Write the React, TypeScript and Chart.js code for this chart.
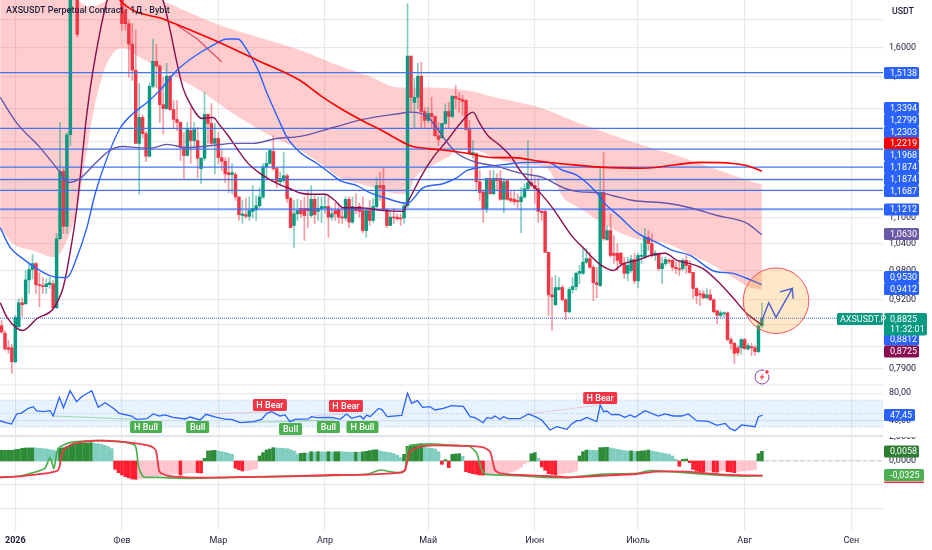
import React, { useEffect, useRef } from "react";
import { Chart, registerables } from "chart.js";

Chart.register(...registerables);

const FIRST_DAY = -4;
const OPEN = [.868,.854,.827,.827,.802,.866,.913,.911,.96,.982,.995,.95,.948,.946,.95,.952,.903,1.051,1.219,1.08,1.321,1.95,2.02,1.84,1.95,1.88,2.02,2.12,1.98,2.06,1.96,1.9,1.98,1.9,1.86,1.92,1.737,1.686,1.612,1.522,1.296,1.372,1.324,1.26,1.469,1.552,1.536,1.411,1.399,1.502,1.396,1.366,1.357,1.284,1.262,1.333,1.304,1.304,1.226,1.254,1.381,1.354,1.296,1.31,1.256,1.246,1.215,1.21,1.21,1.152,1.106,1.108,1.104,1.116,1.12,1.13,1.152,1.231,1.24,1.273,1.226,1.191,1.194,1.207,1.148,1.082,1.11,1.123,1.123,1.123,1.106,1.146,1.116,1.123,1.125,1.128,1.102,1.118,1.12,1.102,1.1,1.146,1.09,1.125,1.128,1.118,1.07,1.118,1.094,1.128,1.181,1.181,1.12,1.082,1.102,1.102,1.1,1.1,1.13,1.57,1.418,1.434,1.502,1.39,1.363,1.384,1.375,1.318,1.312,1.354,1.39,1.375,1.437,1.431,1.427,1.424,1.336,1.265,1.267,1.191,1.165,1.123,1.2,1.16,1.2,1.2,1.146,1.194,1.148,1.146,1.143,1.14,1.152,1.173,1.189,1.181,1.173,1.116,1.116,1.02,.929,.909,.94,.944,.919,.895,.94,.946,.974,.974,.998,1.006,.987,.954,.948,1.163,1.049,1.07,1.018,1.018,1.018,.995,.974,.98,1.004,.958,1.011,1.009,1.054,1.04,1.013,1.016,.984,.995,1.002,1.002,.987,.984,.984,1.002,.991,.976,.942,.931,.931,.923,.929,.919,.897,.888,.891,.893,.842,.835,.827,.827,.842,.825,.829,.827,.82,.868];
const CLOSE = [.856,.825,.824,.802,.884,.913,.909,.96,.982,.995,.95,.948,.946,.952,.954,.903,1.051,1.219,1.08,1.321,1.95,2.05,1.647,1.95,1.88,2.02,2.12,1.98,2.06,1.96,1.9,1.98,1.9,1.86,1.92,1.686,1.686,1.612,1.522,1.296,1.372,1.324,1.26,1.469,1.552,1.536,1.411,1.399,1.502,1.396,1.366,1.357,1.284,1.262,1.336,1.304,1.336,1.254,1.254,1.381,1.354,1.296,1.31,1.256,1.246,1.212,1.21,1.215,1.152,1.108,1.11,1.104,1.118,1.123,1.13,1.152,1.231,1.24,1.276,1.226,1.191,1.2,1.207,1.148,1.077,1.11,1.118,1.11,1.106,1.118,1.146,1.108,1.123,1.128,1.128,1.102,1.11,1.11,1.102,1.1,1.146,1.09,1.128,1.118,1.116,1.07,1.118,1.094,1.128,1.181,1.176,1.118,1.082,1.102,1.1,1.098,1.098,1.13,1.57,1.434,1.434,1.502,1.39,1.363,1.384,1.375,1.318,1.307,1.354,1.39,1.375,1.437,1.431,1.427,1.421,1.336,1.267,1.27,1.191,1.163,1.123,1.2,1.16,1.2,1.194,1.146,1.191,1.146,1.143,1.14,1.14,1.152,1.173,1.189,1.181,1.173,1.116,1.113,1.02,.929,.925,.944,.944,.919,.895,.94,.946,.974,.978,.998,1.006,.987,.954,.95,1.163,1.051,1.07,1.013,1.013,1.002,.995,.974,.991,1.004,.958,1.013,1.013,1.054,1.04,1.013,1.018,.984,.995,1.004,1,.987,.984,.982,1.002,.991,.976,.942,.927,.929,.923,.929,.919,.895,.888,.893,.893,.842,.835,.817,.818,.842,.825,.831,.827,.82,.868,.8825];
const HIGH = [.878,.859,.84,.833,.888,.921,.923,.98,.995,1.015,.997,.975,.965,.962,.965,.958,1.063,1.357,1.227,1.327,2,2.1,2.05,2,2.02,2.08,2.2,2.15,2.1,2.08,2,2.02,2,1.94,1.96,1.96,1.76,1.7,1.686,1.662,1.478,1.38,1.33,1.48,1.63,1.611,1.54,1.498,1.545,1.505,1.424,1.424,1.36,1.327,1.357,1.402,1.357,1.342,1.256,1.449,1.384,1.414,1.354,1.327,1.276,1.256,1.256,1.24,1.216,1.152,1.143,1.148,1.152,1.181,1.155,1.176,1.24,1.27,1.278,1.318,1.229,1.216,1.27,1.212,1.152,1.143,1.146,1.143,1.152,1.168,1.181,1.155,1.152,1.152,1.16,1.152,1.125,1.138,1.136,1.125,1.152,1.152,1.152,1.16,1.136,1.152,1.125,1.143,1.148,1.202,1.216,1.229,1.123,1.118,1.123,1.11,1.11,1.136,1.762,1.57,1.495,1.545,1.549,1.402,1.402,1.434,1.375,1.357,1.354,1.414,1.418,1.44,1.472,1.449,1.44,1.427,1.363,1.304,1.27,1.221,1.168,1.2,1.221,1.221,1.212,1.221,1.2,1.197,1.168,1.168,1.16,1.176,1.186,1.304,1.226,1.202,1.202,1.118,1.118,1.02,.965,.969,.965,.948,.921,.944,.965,.976,.991,1.029,1.029,1.02,.991,.987,1.229,1.27,1.082,1.11,1.058,1.04,1.02,1.009,1.009,1.013,1.018,1.018,1.04,1.075,1.07,1.063,1.024,1.018,1.009,1.009,1.006,1.004,.998,1.002,1.006,1.013,1.002,.976,.944,.938,.938,.942,.94,.921,.897,.897,.895,.895,.846,.837,.831,.844,.844,.835,.835,.831,.872,.913];
const LOW = [.854,.822,.817,.782,.8,.865,.886,.909,.932,.962,.932,.905,.932,.932,.942,.901,.901,1.049,1.063,1.063,1.29,1.9,1.636,1.8,1.84,1.85,1.98,1.92,1.94,1.9,1.85,1.86,1.84,1.82,1.82,1.66,1.662,1.498,1.488,1.296,1.16,1.311,1.245,1.257,1.465,1.465,1.357,1.323,1.396,1.393,1.339,1.333,1.248,1.2,1.26,1.24,1.284,1.202,1.186,1.248,1.296,1.29,1.212,1.24,1.221,1.189,1.163,1.16,1.143,1.094,1.087,1.1,1.094,1.1,1.094,1.125,1.148,1.202,1.238,1.221,1.176,1.186,1.189,1.138,1.077,1.031,1.094,1.102,1.047,1.077,1.102,1.087,1.094,1.089,1.111,1.054,1.094,1.094,1.087,1.087,1.094,1.077,1.087,1.111,1.102,1.065,1.054,1.082,1.089,1.125,1.143,1.118,1.077,1.082,1.087,1.094,1.082,1.087,1.125,1.388,1.339,1.399,1.339,1.342,1.357,1.339,1.315,1.29,1.31,1.351,1.339,1.372,1.399,1.388,1.378,1.333,1.265,1.254,1.168,1.143,1.089,1.113,1.16,1.158,1.168,1.143,1.113,1.143,1.138,1.133,1.123,1.065,1.148,1.168,1.176,1.136,1.089,1.094,1.02,.888,.859,.907,.938,.917,.88,.893,.932,.938,.952,.971,.995,.984,.917,.923,.946,1.047,1.047,1.009,.995,.98,.991,.963,.958,.976,.952,.944,.995,1.006,1.024,1.009,1.002,.98,.952,.991,.995,.98,.974,.969,.98,.974,.974,.921,.911,.907,.921,.921,.917,.893,.872,.884,.884,.84,.825,.799,.813,.815,.825,.822,.813,.813,.818,.864];

const BLUE_DAYS = [-4.4,-1.5,2.2,6.3,11,15,17.9,20.8,23.2,26.7,30.4,34.2,38.3,42,47,51.7,57.5,61.5,64.7,67.4,70.3,73.2,76,79,82.8,87.7,91.5,94.4,99.3,103,108,113.9,118.5,124.3,128.4,131.3,135.9,143,148.8,154.6,159.2,163.3,170,171,175.8,180.7,186.5,191.2,196.1,203.4,208.6,212.7,217];
const BLUE_MA = [1.077,1.031,1.006,.984,.967,.965,1.009,1.077,1.16,1.256,1.339,1.384,1.418,1.456,1.522,1.566,1.608,1.63,1.63,1.59,1.529,1.446,1.378,1.313,1.27,1.24,1.214,1.194,1.181,1.163,1.148,1.136,1.175,1.186,1.202,1.221,1.23,1.238,1.243,1.243,1.221,1.208,1.152,1.139,1.102,1.065,1.042,1.024,1.013,.978,.974,.963,.95];

const MAROON_DAYS = [-4.4,-2.4,.5,2.2,6.3,11,13.9,15.9,17.9,20.8,22.6,26.7,33,42.9,45,47,48.7,50.8,54.3,57.5,59.5,61.5,64.4,67.4,71,76,79.9,82.8,85.7,90,92.9,95.3,100,106.9,112.7,113.9,116.2,118.5,121.4,125.5,129.3,133,135,137.4,140.9,143.8,146.7,149.6,152.5,156.3,159.2,162.1,165,168,170,173.8,176.7,180.7,184.5,188.9,192.3,196.1,199.9,204,208.6,212.7,217];
const MAROON_MA = [.913,.884,.863,.859,.882,.901,.944,1.018,1.125,1.384,1.522,1.776,2,1.776,1.662,1.545,1.465,1.414,1.369,1.372,1.348,1.323,1.282,1.243,1.214,1.187,1.173,1.162,1.159,1.159,1.143,1.125,1.125,1.118,1.116,1.136,1.175,1.214,1.256,1.304,1.354,1.388,1.354,1.318,1.29,1.262,1.221,1.189,1.163,1.123,1.087,1.054,1.031,1.006,.993,.98,.995,1.002,1.013,1.018,1.002,.995,.984,.958,.923,.891,.87];

const PURPLE_DAYS = [-4.4,.5,7.2,13,15.3,18.8,23.2,27.5,31.3,35.4,39.2,44,49.9,57.5,63.3,69,76,82.8,92.4,101,111.8,114.7,119.7,122.6,125.5,128.4,133,140,146.7,153.4,159.2,164.2,170,173.8,179.6,189.5,196.1,204,212.7,217];
const PURPLE_MA = [1.434,1.354,1.284,1.216,1.189,1.2,1.24,1.276,1.287,1.284,1.282,1.293,1.284,1.29,1.296,1.296,1.31,1.316,1.342,1.366,1.384,1.388,1.375,1.339,1.299,1.268,1.246,1.232,1.214,1.202,1.176,1.165,1.163,1.155,1.143,1.136,1.125,1.106,1.087,1.06];

const RED_DAYS = [20,30.4,44,59.5,70.3,82.8,88.6,94.4,100.2,106,113.9,115.6,123.5,131.3,138.9,144.7,152.5,160.4,170,182.5,199,208.6,213.5,217];
const RED_MA = [2.05,1.776,1.699,1.617,1.556,1.488,1.44,1.4,1.366,1.336,1.293,1.287,1.278,1.268,1.256,1.256,1.246,1.238,1.23,1.227,1.243,1.24,1.232,1.219];

const TREND_DAYS = [47,52.9,60];
const TREND_LINE = [1.68,1.63,1.55];

const BAND_UP_DAYS = [-4.4,15,18.5,22,26,33,42,53.7,59.5,82.8,92.4,102.2,111.8,116.8,131.3,140.9,153.4,160.4,170,179.6,189.5,199,208.6,217];
const BAND_UP = [1.82,1.82,1.77,1.75,1.77,1.85,1.78,1.71,1.68,1.59,1.545,1.505,1.465,1.465,1.456,1.43,1.399,1.369,1.333,1.299,1.27,1.24,1.208,1.184];
const BAND_LOW_DAYS = [-4.4,-.7,5.1,11.5,15,17.9,20.8,22.6,25.5,28.4,31.3,36.2,42.9,53.7,63.3,73.2,82.8,88.6,94.4,102.2,111.8,113.9,116.2,121.4,125.5,129.3,134,139.7,144.7,150.4,154.6,159.2,164.2,169.4,175.8,182.5,189.5,196.1,201.9,208.6,213.5,217];
const BAND_LOW = [1.077,1.04,1.024,1.009,1.047,1.118,1.276,1.384,1.511,1.58,1.597,1.566,1.522,1.456,1.384,1.323,1.276,1.24,1.202,1.181,1.16,1.16,1.202,1.235,1.256,1.278,1.276,1.254,1.24,1.235,1.227,1.152,1.123,1.094,1.065,1.047,1.04,1.015,.995,.965,.944,.94];

const LEVELS = [1.5138,1.3394,1.2799,1.2303,1.1968,1.1687];
const THICK_LEVEL = 1.1212;
const LAST_PRICE = 0.8825;

const PLAN_DAYS = [217,219,221.1,225.8,222.3,225.8,226.1];
const PLAN_PRICES = [.878,.913,.884,.942,.935,.942,.921];
const CIRCLE = { day: 221.1, price: .917 };

const RSI_DAYS = [-4.5,-3,-1.1,.4,1.8,3.8,5.2,6.2,8.1,10.1,11,12.8,14,15.9,17.8,19.3,22.2,24.1,26.1,28.5,30.2,33.8,35.3,38.2,40.1,41.9,43.5,45.9,49.3,50.8,53.7,55.4,58.5,61.4,62.9,65.3,69.2,71.6,73.1,74.5,76.9,78.4,79.8,81.3,85.2,86.1,87.6,91,92.4,94.4,96.3,97.8,100.2,101.2,102.1,103.1,105.5,106.5,108.1,112.3,114,115.2,116.9,118.4,120.5,122,124.4,126.8,130.2,132.2,133.6,136,137,138.5,139.4,140.9,141.9,143.3,146.7,149.1,151.1,153,155.4,157.4,160.3,161.7,163.2,164.2,166.1,169,170,171,171.9,173.3,175.3,177.2,178.7,180.1,183,186.9,188.8,191.3,193.7,195.6,198,201.4,203.9,206.3,207.7,209.2,211.1,215,216,217.2];
const RSI = [39.4,36.9,34.4,49.3,50.7,57.7,60.1,53.7,52.7,54.2,46.3,74,58.6,83.8,67.5,74.9,83.8,59.1,66,57.7,50.2,46.3,41.4,42.3,49.3,46.3,47.8,44.3,41.9,44.8,40.4,48.8,44.3,41.4,41.4,36.4,37.9,41.4,50.2,52.7,46.3,47.8,37.9,41.4,41.9,45.3,43.8,44.3,43.8,41.4,49.3,42.8,46.3,41.9,47.8,45.3,57.2,56.2,45.3,47.3,79.9,65.1,69,59.1,60.1,55.2,57.7,61.6,60.6,45.3,43.8,36.4,43.8,42.8,46.3,41.4,45.3,42.3,42.3,49.3,45.3,40.4,25.6,30.5,26.5,34.4,39.4,39.4,44.3,37.9,62.6,52.7,53.7,48.3,48.8,44.3,47.8,44.3,54.2,46.3,49.3,46.3,46.3,49.3,39.4,38.4,32.5,35.4,28,24.6,33,30.5,45.3,47.45];
const RSI_UPPER = 70;
const RSI_MID = 50;
const RSI_LOWER = 30;

const DIV_BULL_DAYS = [11,35.3,null,67,80,null,80,93];
const DIV_BULL = [46.3,41.4,null,37,38,null,38,41];
const DIV_BEAR_DAYS = [55.4,74,null,87,96.3,null,149,170];
const DIV_BEAR = [49,52.7,null,47,49.3,null,49.3,62.6];

const TAGS = [
  { text: "H Bull", kind: "bull", day: 38, rsi: 30 },
  { text: "Bull", kind: "bull", day: 53, rsi: 30 },
  { text: "H Bear", kind: "bear", day: 74, rsi: 62.6 },
  { text: "Bull", kind: "bull", day: 80, rsi: 27 },
  { text: "H Bear", kind: "bear", day: 96.1, rsi: 61 },
  { text: "Bull", kind: "bull", day: 91, rsi: 30 },
  { text: "H Bull", kind: "bull", day: 100.9, rsi: 30 },
  { text: "H Bear", kind: "bear", day: 170, rsi: 73 },
];

const HIST = [.0064,.0064,.0064,.0064,.0068,.007,.0076,.0078,.0078,.0079,.0078,.0076,.0074,.0072,.0068,.0066,.006,.0076,.008,.0088,.0094,.01,.0104,.0106,.0108,.0108,.011,.0106,.0104,.01,.0094,.0086,.0074,-.005,-.007,-.0084,-.0094,-.0102,-.0108,-.011,-.0106,-.0104,-.0103,-.01,-.0094,-.009,-.0086,-.0084,-.0083,-.008,-.0076,-.0075,-.0084,-.0076,-.0072,-.007,-.0069,-.007,-.0072,.0016,.006,.0062,.0064,.006,.0056,.0052,.0046,.004,-.0044,-.0052,-.006,-.0058,-.0056,-.0052,-.0046,.003,.005,.0066,.0072,.008,.0078,.0077,.0076,.0074,.0068,.006,.0042,.0046,.0048,.0047,.0056,.0054,.0056,.0055,.0054,.0056,.0054,.0055,.0056,.0055,.0054,.0053,.0052,.0053,.0052,.0055,.0058,.0062,.0066,.0067,.006,.0056,.0052,.005,.0044,.0034,.002,.004,.0088,.0096,.01,.0102,.0104,.009,.0078,.0076,.0072,.0056,-.002,.0008,-.004,.004,.0042,.0044,.0028,-.0064,-.007,-.0076,-.008,-.0084,-.0085,-.0084,-.008,-.0076,-.0075,-.0072,-.0071,-.007,-.0064,-.006,-.005,-.0036,-.0016,-.0006,.0044,.005,.0016,-.0036,-.0056,-.0076,-.008,-.0084,-.008,-.0076,-.0072,-.007,-.0066,-.006,.003,.0056,.0066,.0065,.0064,.0063,.008,.0081,.0082,.0078,.0074,.007,.0066,.0062,.006,.0061,.0056,.0058,.006,.0062,.0066,.006,.0056,.0052,.0048,.0044,.004,.003,.001,-.0032,.001,.0012,-.001,-.005,-.006,-.0064,-.0066,-.006,-.0059,-.0066,-.0067,-.006,-.0056,-.0064,-.0066,-.007,-.0066,-.006,-.0059,-.0056,-.0054,-.005,.0044,.0058];

const OSC_RED_DAYS = [-4.5,.4,5.2,10.1,12.5,13.5,14.4,17.3,23.6,29.5,36.2,39.6,40.9,41.9,44,49.8,58.5,73.1,82.8,92.4,102.1,111.8,113.3,114.7,117.6,121.5,131.2,132.2,136,138,139.4,140.9,146.7,154.5,161.2,169,180.6,186.4,195.2,204.8,217.2];
const OSC_RED = [-.0361,-.0346,-.0309,-.0258,-.0199,.0133,.028,.0390,.0449,.0435,.0376,.0317,.0228,-.0236,-.0324,-.0361,-.0368,-.0346,-.0332,-.0309,-.0302,-.0258,-.0199,.0206,.0317,.0346,.0332,.0332,.0302,.0206,-.0199,-.0273,-.0309,-.0332,-.0361,-.0332,-.0287,-.0236,-.0236,-.0295,-.0325];
const OSC_GREEN_DAYS = [-4.5,1.4,5.2,8.6,10.1,11.2,12.5,15.9,23.6,29.5,34.8,35.8,37.2,41.1,49.8,58.5,102.1,106,108.9,112.3,113.3,114.2,117.6,121.5,131.2,132.2,134.1,135.6,137,146.7,154.5,161.2,169.9,180.6,184.5,190.3,197.1,209.7,217.2];
const OSC_GREEN = [-.0361,-.0332,-.0258,-.0162,.0081,-.0162,.028,.0405,.0449,.0435,.0346,-.0125,-.0346,-.0361,-.0383,-.0368,-.0295,-.0199,-.0236,-.0258,-.0199,.0317,.036,.0376,.0332,.0317,.017,-.0199,-.0295,-.0324,-.0361,-.0361,-.0295,-.0273,-.0214,-.0236,-.0273,-.0332,-.0325];

const MONTH_DAYS = [0,31,59,90,120,151,181,212,243];
const MONTH_LABELS = ["2026","Фев","Мар","Апр","Май","Июн","Июль","Авг","Сен"];
const PRICE_TICKS = [1.7,1.6,1.5,1.4,1.3,1.2,1.1,1.04,.98,.92,.87,.83,.79];
const RSI_TICKS = [80,40];
const MACD_TICKS = [2,0,-2,-4];

const AXIS_TAGS = [
  { text: "1,5138", y: 73, bg: "#2962FF" },
  { text: "1,3394", y: 108, bg: "#2962FF" },
  { text: "1,2799", y: 120, bg: "#2962FF" },
  { text: "1,2303", y: 132, bg: "#2962FF" },
  { text: "1,2219", y: 143.5, bg: "#FF0000" },
  { text: "1,1968", y: 155, bg: "#2962FF" },
  { text: "1,1874", y: 167, bg: "#2962FF" },
  { text: "1,1874", y: 179, bg: "#2962FF" },
  { text: "1,1687", y: 191, bg: "#2962FF" },
  { text: "1,1212", y: 209.5, bg: "#2962FF" },
  { text: "1,0630", y: 234, bg: "#6A5AA6" },
  { text: "0,9530", y: 277, bg: "#2962FF" },
  { text: "0,9412", y: 289, bg: "#2962FF" },
  { text: "0,8812", y: 339.5, bg: "#2962FF" },
  { text: "0,8725", y: 351.5, bg: "#880E4F" },
  { text: "47,45", y: 415, bg: "#2962FF", w: 31 },
  { text: "0,0058", y: 451.5, bg: "#2E7D32" },
  { text: "-0,0325", y: 475, bg: "#4CAF50", w: 40 },
];

const FONT = "Roboto, 'Noto Sans', sans-serif";
const INK = "#1E1E3C";
const GRID = "#E9E9EC";
const XMIN = -4.45;
const XMAX = 252.2;
const UP = "#089981";
const DOWN = "#F23645";

const pts = (xs: (number | null)[], ys: (number | null)[]) =>
  xs.map((x, i) => ({ x: x === null ? NaN : x, y: ys[i] === null ? NaN : ys[i] }));

const line = (data: any[], color: string, width: number, yAxisID: string, order: number, extra: any = {}) => ({
  type: "line",
  data,
  borderColor: color,
  borderWidth: width,
  pointRadius: 0,
  fill: false,
  tension: 0,
  yAxisID,
  order,
  ...extra,
});

const smooth = { cubicInterpolationMode: "monotone" };

const overlay = {
  id: "overlay",
  afterDraw(chart: any) {
    const { ctx, scales, chartArea } = chart;
    ctx.save();

    // pane separators
    ctx.fillStyle = "#E4E5EA";
    ctx.fillRect(0, scales.rsi.top - 0.5, chart.width - 49, 1);
    ctx.fillStyle = "#FFFFFF";
    ctx.fillRect(chartArea.right, scales.macd.top - 8, chart.width - chartArea.right, 8);
    ctx.fillStyle = "#E4E5EA";
    ctx.fillRect(0, scales.macd.top - 2, chart.width - 49, 2);

    // title
    ctx.fillStyle = INK;
    ctx.font = `500 9px ${FONT}`;
    ctx.textAlign = "left";
    ctx.textBaseline = "middle";
    ctx.fillText("AXSUSDT Perpetual Contract · 1Д · Bybit", 6, 11);
    ctx.font = `500 8.8px ${FONT}`;
    ctx.fillText("USDT", 892, 12);

    // signal tags in the RSI pane
    ctx.font = `500 9px ${FONT}`;
    ctx.textAlign = "center";
    for (const t of TAGS) {
      const cx = scales.x.getPixelForValue(t.day);
      const cy = scales.rsi.getPixelForValue(t.rsi);
      const w = t.text.length > 4 ? (t.kind === "bear" ? 34 : 32) : 23;
      ctx.fillStyle = t.kind === "bear" ? DOWN : "#4CAF50";
      ctx.beginPath();
      ctx.roundRect(cx - w / 2, cy - 6, w, 12, 1.5);
      ctx.fill();
      ctx.fillStyle = "#FFFFFF";
      ctx.fillText(t.text, cx, cy + 0.5);
    }

    // price tags on the axis
    ctx.textAlign = "left";
    ctx.font = `400 9px ${FONT}`;
    for (const t of AXIS_TAGS as any[]) {
      ctx.fillStyle = t.bg;
      ctx.beginPath();
      ctx.roundRect(884, t.y - 6, t.w || 35, 12, 1.5);
      ctx.fill();
      ctx.fillStyle = "#FFFFFF";
      ctx.fillText(t.text, 890, t.y + 0.5);
    }
    ctx.fillStyle = "#FF2D45";
    ctx.fillRect(884, 481.5, 40, 1.5);

    // last price block
    ctx.fillStyle = UP;
    ctx.beginPath();
    ctx.roundRect(884, 313, 43, 22.5, 2);
    ctx.fill();
    ctx.beginPath();
    ctx.roundRect(837, 313, 46, 12, 1.5);
    ctx.fill();
    ctx.fillStyle = "#FFFFFF";
    ctx.fillText("AXSUSDT.P", 840, 319.5);
    ctx.fillText("0,8825", 890, 319.5);
    ctx.fillText("11:32:01", 890, 330);

    // flash icon
    const ix = 762, iy = 377;
    ctx.strokeStyle = "#8E3FA8";
    ctx.lineWidth = 1;
    ctx.beginPath();
    ctx.arc(ix, iy, 7, 0, Math.PI * 2);
    ctx.stroke();
    ctx.fillStyle = "#FFFFFF";
    ctx.beginPath();
    ctx.arc(ix + 5, iy - 5, 3, 0, Math.PI * 2);
    ctx.fill();
    ctx.fillStyle = "#F23645";
    ctx.beginPath();
    ctx.arc(ix + 5, iy - 5, 1.8, 0, Math.PI * 2);
    ctx.fill();
    ctx.beginPath();
    ctx.moveTo(ix + 1.5, iy - 4);
    ctx.lineTo(ix - 2.5, iy + 0.8);
    ctx.lineTo(ix - 0.2, iy + 0.8);
    ctx.lineTo(ix - 1.5, iy + 4);
    ctx.lineTo(ix + 2.5, iy - 0.8);
    ctx.lineTo(ix + 0.2, iy - 0.8);
    ctx.closePath();
    ctx.fill();

    ctx.restore();
  },
};

const sizeY = (w: number) => (s: any) => {
  s.width = w;
  s.paddingTop = 0;
  s.paddingBottom = 0;
};

const yAxis = (stackWeight: number, weight: number, extra: any) => ({
  position: "right",
  stack: "panes",
  stackWeight,
  weight,
  offset: false,
  beginAtZero: false,
  grid: { color: GRID, lineWidth: 1.2, drawTicks: false },
  border: { display: false },
  afterFit: sizeY(49),
  ...extra,
});

const hiddenAxis = (min: number, max: number) => ({
  type: "linear",
  display: false,
  position: "right",
  min,
  max,
  beginAtZero: false,
});

const tickFont = { family: FONT, size: 9 };

export default function App() {
  const ref = useRef<HTMLCanvasElement>(null);

  useEffect(() => {
    document.body.style.margin = "0";
    document.body.style.background = "#FFFFFF";

    const days = OPEN.map((_, i) => FIRST_DAY + i);
    const isUp = OPEN.map((o, i) => CLOSE[i] >= o);
    const histDays = HIST.map((_, i) => FIRST_DAY + i);
    const histColors = HIST.map((v, i) => {
      const prev = i ? HIST[i - 1] : v;
      if (v >= 0) return v >= prev ? "#2E8B37" : "#7FCDBE";
      return v <= prev ? "#FF1F30" : "#FFC4CC";
    });
    const flat = (v: number) => [{ x: XMIN, y: v }, { x: XMAX, y: v }];

    const datasets: any[] = [
      line(pts(BAND_UP_DAYS, BAND_UP), "rgba(0,0,0,0)", 0, "price", 95, {
        ...smooth,
        fill: "+1",
        backgroundColor: "rgba(255,60,60,0.26)",
      }),
      line(pts(BAND_LOW_DAYS, BAND_LOW), "rgba(0,0,0,0)", 0, "price", 96, smooth),
      {
        type: "bar",
        data: days.map((x, i) => ({ x, y: [LOW[i], HIGH[i]] })),
        backgroundColor: isUp.map((u) => (u ? "rgba(8,153,129,0.5)" : "rgba(242,54,69,0.5)")),
        barThickness: 1,
        grouped: false,
        yAxisID: "price",
        order: 80,
      },
      {
        type: "bar",
        data: days.map((x, i) => ({ x, y: [OPEN[i], CLOSE[i]] })),
        backgroundColor: isUp.map((u) => (u ? UP : DOWN)),
        barThickness: 2.8,
        minBarLength: 1,
        grouped: false,
        yAxisID: "price",
        order: 70,
      },
      ...LEVELS.map((v) => line(flat(v), "#4274F2", 1.3, "price", 60)),
      line(flat(THICK_LEVEL), "rgba(41,98,255,0.65)", 2, "price", 60),
      line(flat(LAST_PRICE), "#2962FF", 1, "price", 60, { borderDash: [1, 1] }),
      line(pts(RED_DAYS, RED_MA), "#FF0000", 1.6, "price", 40, smooth),
      line(pts(PURPLE_DAYS, PURPLE_MA), "#6456AE", 1.4, "price", 41, smooth),
      line(pts(BLUE_DAYS, BLUE_MA), "#2962FF", 1.4, "price", 42, smooth),
      line(pts(MAROON_DAYS, MAROON_MA), "#880E4F", 1.4, "price", 43, smooth),
      line(pts(TREND_DAYS, TREND_LINE), "#E0566A", 1.4, "price", 44),
      {
        type: "bubble",
        data: [{ x: CIRCLE.day, y: CIRCLE.price, r: 32.8 }],
        backgroundColor: "rgba(255,152,0,0.22)",
        borderColor: "#F7525F",
        borderWidth: 1,
        yAxisID: "price",
        order: 30,
      },
      line(pts(PLAN_DAYS, PLAN_PRICES), "#4A5FD0", 1.4, "price", 20),

      line(flat(RSI_UPPER), "#A9BDD6", 0.8, "rsi", 90, {
        borderDash: [1, 2],
        fill: "+1",
        backgroundColor: "rgba(33,150,243,0.11)",
      }),
      line(flat(RSI_LOWER), "#A9BDD6", 0.8, "rsi", 91, { borderDash: [1, 2] }),
      line(flat(RSI_MID), "#A9BDD6", 0.8, "rsi", 89, { borderDash: [1, 2] }),
      line(pts(DIV_BULL_DAYS, DIV_BULL), "rgba(76,175,80,0.45)", 1, "rsi", 50),
      line(pts(DIV_BEAR_DAYS, DIV_BEAR), "rgba(242,54,69,0.22)", 1, "rsi", 50),
      line(pts(RSI_DAYS, RSI), "#2962FF", 1.3, "rsi", 10),

      {
        type: "bar",
        data: histDays.map((x, i) => ({ x, y: HIST[i] })),
        backgroundColor: histColors,
        barThickness: 3,
        grouped: false,
        yAxisID: "hist",
        order: 50,
      },
      line([{ x: 218, y: 0 }, { x: XMAX, y: 0 }], "#C8CACF", 1, "hist", 51, { borderDash: [4, 3] }),
      line(pts(OSC_GREEN_DAYS, OSC_GREEN), "#4CAF50", 1.7, "osc", 12, { tension: 0.2 }),
      line(pts(OSC_RED_DAYS, OSC_RED), "#F23645", 1.8, "osc", 11, { tension: 0.2 }),
    ];

    const chart = new Chart(ref.current as HTMLCanvasElement, {
      type: "line",
      data: { datasets },
      plugins: [overlay],
      options: {
        animation: false,
        responsive: false,
        devicePixelRatio: 1,
        events: [],
        layout: { padding: 0, autoPadding: false },
        plugins: { legend: { display: false }, tooltip: { enabled: false }, title: { display: false } },
        scales: {
          x: {
            type: "linear",
            min: XMIN,
            max: XMAX,
            offset: false,
            grid: { color: GRID, lineWidth: 1.2, offset: false, drawTicks: false },
            border: { display: false },
            afterBuildTicks: (s: any) => {
              s.ticks = MONTH_DAYS.map((value) => ({ value }));
            },
            afterFit: (s: any) => {
              s.height = 20;
              s.paddingLeft = 0;
              s.paddingRight = 0;
            },
            ticks: {
              autoSkip: false,
              maxRotation: 0,
              padding: 5,
              color: INK,
              font: (c: any) => ({ family: FONT, size: 9, weight: c.index === 0 ? "700" : "400" }),
              callback: (v: any) => MONTH_LABELS[MONTH_DAYS.indexOf(v)],
            },
          },
          price: yAxis(385, 0, {
            type: "logarithmic",
            bounds: "data",
            min: 0.762,
            max: 1.776,
            afterBuildTicks: (s: any) => {
              s.ticks = PRICE_TICKS.map((value) => ({ value }));
            },
            ticks: {
              autoSkip: false,
              padding: 6,
              color: INK,
              font: tickFont,
              callback: (v: any) => (v === 1.7 ? "" : Number(v).toFixed(4).replace(".", ",")),
            },
          }),
          rsi: yAxis(52, 1, {
            type: "linear",
            min: 15.2,
            max: 92.2,
            afterBuildTicks: (s: any) => {
              s.ticks = RSI_TICKS.map((value) => ({ value }));
            },
            ticks: {
              autoSkip: false,
              padding: 6,
              color: INK,
              font: tickFont,
              callback: (v: any) => Number(v).toFixed(2).replace(".", ","),
            },
          }),
          macd: yAxis(93, 2, {
            type: "linear",
            min: -5.75,
            max: 2,
            afterBuildTicks: (s: any) => {
              s.ticks = MACD_TICKS.map((value) => ({ value }));
            },
            ticks: {
              autoSkip: false,
              padding: 6,
              color: INK,
              font: tickFont,
              callback: (v: any) => (v >= 0 ? Number(v).toFixed(4).replace(".", ",") : ""),
            },
          }),
          hist: hiddenAxis(-0.0414, 0.2766),
          osc: hiddenAxis(-0.1525, 1.0188),
        },
      } as any,
    } as any);

    return () => chart.destroy();
  }, []);

  return (
    <div style={{ position: "absolute", left: 0, top: 0, width: 932, height: 550, background: "#FFFFFF" }}>
      <canvas ref={ref} width={932} height={550} style={{ display: "block", width: 932, height: 550 }} />
    </div>
  );
}
